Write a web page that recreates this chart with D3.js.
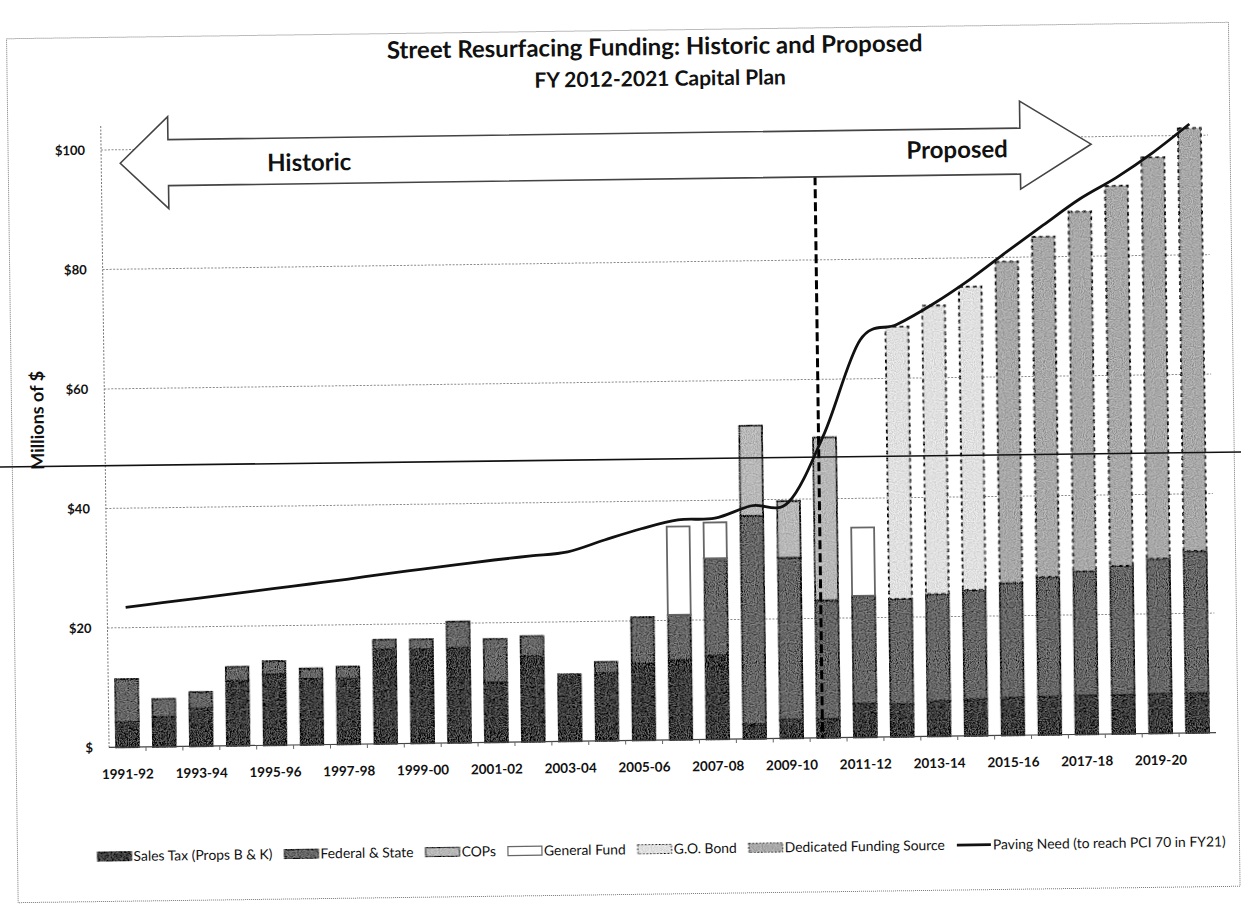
<!DOCTYPE html>
<html>
<head>
<meta charset="utf-8">
<script src="https://cdn.jsdelivr.net/npm/d3@7"></script>
<style>
  body { margin: 0; background: #fff; }
  svg text { font-family: Lato, "Open Sans", "Liberation Sans", sans-serif; fill: #111; }
</style>
</head>
<body>
<svg id="chart" width="1241" height="907">
  <defs>
    <!-- halftone speckle for the filled bar segments -->
    <filter id="grain" x="-5%" y="-5%" width="110%" height="110%">
      <feTurbulence type="fractalNoise" baseFrequency="0.9" numOctaves="1" seed="7" result="noise"/>
      <feColorMatrix in="noise" type="saturate" values="0" result="gray"/>
      <feComponentTransfer in="gray" result="contrast">
        <feFuncR type="linear" slope="3.2" intercept="-1.1"/>
        <feFuncG type="linear" slope="3.2" intercept="-1.1"/>
        <feFuncB type="linear" slope="3.2" intercept="-1.1"/>
        <feFuncA type="table" tableValues="1 1"/>
      </feComponentTransfer>
      <feComposite in="SourceGraphic" in2="contrast" operator="arithmetic" k1="0" k2="1" k3="0.32" k4="-0.16" result="mix"/>
      <feComposite in="mix" in2="SourceGraphic" operator="in"/>
    </filter>
  </defs>
</svg>
<script>
// Fiscal years on the category axis
const years = ["1991-92","1992-93","1993-94","1994-95","1995-96","1996-97","1997-98","1998-99","1999-00","2000-01",
               "2001-02","2002-03","2003-04","2004-05","2005-06","2006-07","2007-08","2008-09","2009-10","2010-11",
               "2011-12","2012-13","2013-14","2014-15","2015-16","2016-17","2017-18","2018-19","2019-20","2020-21"];

// Funding by source, $ millions
const salesTax   = [4.2, 5.0, 6.3, 10.9, 11.9, 11.0, 11.0, 15.8, 15.7, 15.9, 10.0, 14.3, 11.2, 11.3, 12.8, 13.3, 14.0, 2.4, 3.1, 3.2,
                    5.6, 5.5, 5.9, 6.1, 6.3, 6.4, 6.5, 6.5, 6.6, 6.6];
const fedState   = [7.2, 3.0, 2.8, 2.3, 2.2, 1.8, 2.0, 1.6, 1.7, 4.4, 7.3, 3.4, 0, 1.9, 7.8, 7.6, 16.3, 34.9, 27.1, 19.8,
                    18.1, 17.6, 17.9, 18.3, 19.2, 20.0, 20.8, 21.6, 22.6, 23.8];
const cops       = [0, 0, 0, 0, 0, 0, 0, 0, 0, 0, 0, 0, 0, 0, 0, 0, 0, 15.1, 9.5, 27.3,
                    0, 0, 0, 0, 0, 0, 0, 0, 0, 0];
const generalFund= [0, 0, 0, 0, 0, 0, 0, 0, 0, 0, 0, 0, 0, 0, 0, 14.8, 6.0, 0, 0, 0,
                    11.4, 0, 0, 0, 0, 0, 0, 0, 0, 0];
const goBond     = [0, 0, 0, 0, 0, 0, 0, 0, 0, 0, 0, 0, 0, 0, 0, 0, 0, 0, 0, 0,
                    0, 45.5, 48.3, 50.8, 0, 0, 0, 0, 0, 0];
const dedicated  = [0, 0, 0, 0, 0, 0, 0, 0, 0, 0, 0, 0, 0, 0, 0, 0, 0, 0, 0, 0,
                    0, 0, 0, 0, 53.8, 57.0, 60.2, 63.6, 67.2, 70.8];

// Paving need to reach PCI 70 by FY21, $ millions
const pavingNeed = [23.4, 24.1, 24.8, 25.5, 26.2, 26.9, 27.6, 28.4, 29.1, 29.8, 30.5, 31.1, 31.7, 33.6, 35.4, 36.8, 37.0, 39.0, 39.5, 51.0,
                    66.5, 69.0, 72.4, 76.4, 80.9, 85.3, 89.6, 93.1, 97.2, 101.9];

const yTicks = [0, 20, 40, 60, 80, 100];
const yTickLabels = ["$", "$20", "$40", "$60", "$80", "$100"];
const xTickLabels = years.filter((d, i) => i % 2 === 0);

const seriesNames = ["Sales Tax (Props B & K)", "Federal & State", "COPs", "General Fund", "G.O. Bond", "Dedicated Funding Source"];
const lineName = "Paving Need (to reach PCI 70 in FY21)";
const firstProposedYear = "2010-11";

// ---- styles per source ----
const keys = ["salesTax", "fedState", "cops", "generalFund", "goBond", "dedicated"];
const style = {
  salesTax:    { fill: "#333333", stroke: "#000", dash: null, sw: 1.8, grain: true },
  fedState:    { fill: "#666666", stroke: "#000", dash: null, sw: 1.8, grain: true },
  cops:        { fill: "#b8b8b8", stroke: "#000", dash: null, sw: 1.8, grain: true },
  generalFund: { fill: "#ffffff", stroke: "#666", dash: null, sw: 1.8, grain: false },
  goBond:      { fill: "#e0e0e0", stroke: "#000", dash: "4,3", sw: 2, grain: true },
  dedicated:   { fill: "#a8a8a8", stroke: "#000", dash: "4,3", sw: 2, grain: true }
};

const rows = years.map((yr, i) => ({
  year: yr, salesTax: salesTax[i], fedState: fedState[i], cops: cops[i],
  generalFund: generalFund[i], goBond: goBond[i], dedicated: dedicated[i]
}));

const svg = d3.select("#chart");
svg.insert("rect", "defs").attr("width", 1241).attr("height", 907).attr("fill", "#fff");

// whole sheet sits slightly tilted
const page = svg.append("g").attr("transform", "rotate(-0.77 660 440)");

// frame
page.append("rect").attr("x", 12).attr("y", 30).attr("width", 1222).attr("height", 864)
  .attr("fill", "none").attr("stroke", "#777").attr("stroke-width", 1).attr("stroke-dasharray", "1,1");

const x = d3.scaleBand().domain(years).range([105, 1212]).paddingInner(0.38).paddingOuter(0.19);
const y = d3.scaleLinear().domain([0, 100]).range([740, 142.5]);
const x0 = 105, x1 = 1212;

// title
const title = page.append("g").attr("text-anchor", "middle").attr("font-weight", "bold");
title.append("text").attr("x", 660).attr("y", 55).attr("font-size", 24).text("Street Resurfacing Funding:  Historic and Proposed");
title.append("text").attr("x", 665).attr("y", 86).attr("font-size", 21).text("FY 2012-2021 Capital Plan");

// gridlines
page.append("g").selectAll("line").data(yTicks.filter(d => d > 0)).join("line")
  .attr("x1", x0).attr("x2", x1).attr("y1", d => y(d)).attr("y2", d => y(d))
  .attr("stroke", "#8a8a8a").attr("stroke-width", 1).attr("stroke-dasharray", "2,1.5");

// y axis
const yAxis = d3.axisLeft(y).tickValues(yTicks).tickSize(0).tickPadding(16)
  .tickFormat((d, i) => yTickLabels[i]);
const gy = page.append("g").attr("transform", `translate(${x0},0)`).call(yAxis);
gy.select(".domain").remove();
gy.selectAll("text").attr("font-size", 13).attr("font-weight", "bold").attr("fill", "#333");
page.append("line").attr("x1", x0).attr("x2", x0).attr("y1", y(104)).attr("y2", y(0))
  .attr("stroke", "#777").attr("stroke-width", 1).attr("stroke-dasharray", "2,1.5");

page.append("text").attr("transform", `translate(44,412) rotate(-90)`)
  .attr("text-anchor", "middle").attr("font-size", 18).attr("font-weight", "bold").text("Millions of $");

// stacked bars
const stack = d3.stack().keys(keys);
const layers = stack(rows);
const bars = page.append("g");
layers.forEach(layer => {
  const s = style[layer.key];
  bars.append("g")
    .selectAll("rect").data(layer.filter(d => d[1] - d[0] > 0)).join("rect")
    .attr("x", d => x(d.data.year))
    .attr("width", x.bandwidth())
    .attr("y", d => y(d[1]))
    .attr("height", d => y(d[0]) - y(d[1]))
    .attr("fill", s.fill)
    .attr("stroke", s.stroke)
    .attr("stroke-width", s.sw)
    .attr("stroke-dasharray", s.dash)
    .attr("filter", s.grain ? "url(#grain)" : null);
});

// baseline and category ticks
page.append("line").attr("x1", x0).attr("x2", x1).attr("y1", y(0)).attr("y2", y(0))
  .attr("stroke", "#444").attr("stroke-width", 1.2);
page.append("g").selectAll("line").data(years.slice(1)).join("line")
  .attr("x1", d => x(d) - x.step() * x.paddingInner() / 2).attr("x2", d => x(d) - x.step() * x.paddingInner() / 2)
  .attr("y1", y(0)).attr("y2", y(0) + 4).attr("stroke", "#666");

// x axis labels
const xAxis = d3.axisBottom(x).tickValues(xTickLabels).tickSize(0).tickPadding(22);
const gx = page.append("g").attr("transform", `translate(0,${y(0)})`).call(xAxis);
gx.select(".domain").remove();
gx.selectAll("text").attr("font-size", 13.5).attr("font-weight", "bold").attr("fill", "#222");

// historic / proposed divider
const divX = x(firstProposedYear) + x.bandwidth() / 2 - 6;
page.append("line").attr("x1", divX).attr("x2", divX).attr("y1", y(94)).attr("y2", y(0))
  .attr("stroke", "#000").attr("stroke-width", 3).attr("stroke-dasharray", "9,4");

// paving need line
const line = d3.line()
  .x((d, i) => x(years[i]) + x.bandwidth() / 2)
  .y(d => y(d))
  .curve(d3.curveCardinal.tension(0));
page.append("path").datum(pavingNeed).attr("d", line)
  .attr("fill", "none").attr("stroke", "#111").attr("stroke-width", 2.8);

// double arrow banner
const ay = 156, shaft = 23, head = 46;
const lt = 124, lb = 172, rb = 1024, rt = 1095;
const arrowPts = [[lt, ay], [lb, ay - head], [lb, ay - shaft], [rb, ay - shaft], [rb, ay - head - 4], [rt, ay - 6],
                  [rb, ay + head - 8], [rb, ay + shaft], [lb, ay + shaft], [lb, ay + head]];
page.append("path").attr("d", d3.line()(arrowPts) + "Z")
  .attr("fill", "#fff").attr("stroke", "#444").attr("stroke-width", 1.6);
page.append("text").attr("x", 313).attr("y", 166).attr("text-anchor", "middle")
  .attr("font-size", 24).attr("font-weight", "bold").text("Historic");
page.append("text").attr("x", 961).attr("y", 162).attr("text-anchor", "middle")
  .attr("font-size", 24).attr("font-weight", "bold").text("Proposed");

// legend
const legend = page.append("g").attr("transform", "translate(92,849)");
let lx = 0;
const items = seriesNames.map((n, i) => ({ name: n, key: keys[i] })).concat([{ name: lineName, key: "line" }]);
items.forEach(it => {
  const g = legend.append("g").attr("transform", `translate(${lx},0)`);
  if (it.key === "line") {
    g.append("line").attr("x1", 0).attr("x2", 34).attr("y1", 0).attr("y2", 0)
      .attr("stroke", "#111").attr("stroke-width", 2.8);
  } else {
    const s = style[it.key];
    g.append("rect").attr("x", 0).attr("y", -4.5).attr("width", 34).attr("height", 9)
      .attr("fill", s.fill).attr("stroke", s.stroke).attr("stroke-width", 1.2)
      .attr("stroke-dasharray", s.dash ? "2,1.5" : null)
      .attr("filter", s.grain ? "url(#grain)" : null);
  }
  const t = g.append("text").attr("x", 36).attr("y", 4.8).attr("font-size", 13.9).text(it.name);
  lx += 36 + t.node().getComputedTextLength() + 12;
});

// stray scan stroke crossing the sheet
svg.append("line").attr("x1", 0).attr("x2", 1241).attr("y1", 467).attr("y2", 452)
  .attr("stroke", "#111").attr("stroke-width", 1.6);
</script>
</body>
</html>
